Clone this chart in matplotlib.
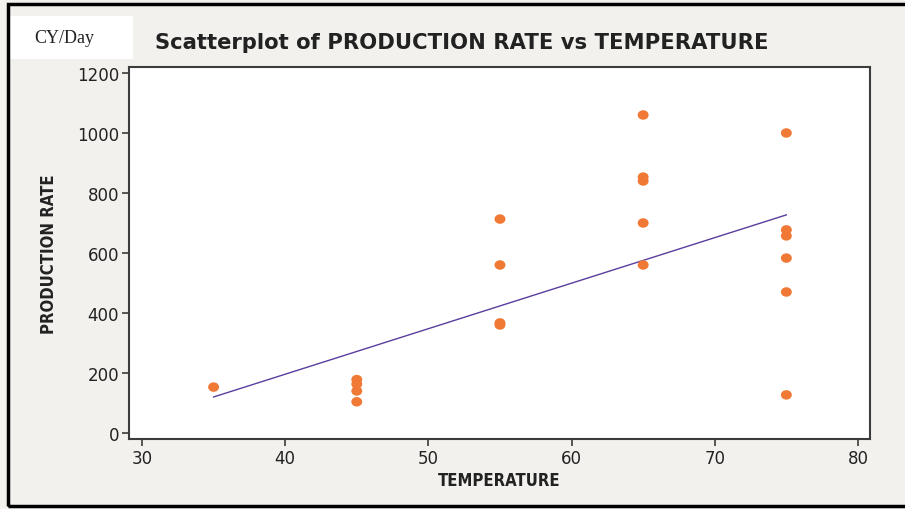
import numpy as np
import matplotlib
matplotlib.use("Agg")
import matplotlib.pyplot as plt
from matplotlib.patches import Rectangle
from matplotlib.path import Path
from matplotlib.transforms import Affine2D

# data
temperature = [35,
               45, 45, 45, 45,
               55, 55, 55, 55,
               65, 65, 65, 65, 65,
               75, 75, 75, 75, 75, 75]
production = [153,
              178, 163, 140, 104,
              713, 560, 367, 360,
              1060, 853, 840, 700, 560,
              1000, 677, 657, 583, 470, 127]

# fitted line as drawn in the chart (ends)
fit_x = [35, 75]
fit_y = [120, 727]

x_ticks = [30, 40, 50, 60, 70, 80]
y_ticks = [0, 200, 400, 600, 800, 1000, 1200]

bg = "#f2f1ed"
dot = "#f07a35"
fitc = "#5a3d9e"
axc = "#3c3c3c"

# slightly wide oval marker
oval = Path.unit_circle().transformed(Affine2D().scale(1.15, 1.0))

fig = plt.figure(figsize=(9.05, 5.10), dpi=100, facecolor=bg)
ax = fig.add_axes([0.1425, 0.1373, 0.8188, 0.7294])
ax.set_facecolor("white")

ax.scatter(temperature, production, s=62, marker=oval, color=dot,
           edgecolors="none", zorder=3)
ax.plot(fit_x, fit_y, color=fitc, lw=1.0, zorder=2)

ax.set_xlim(29.09, 80.84)
ax.set_ylim(-20, 1220)
ax.set_xticks(x_ticks)
ax.set_yticks(y_ticks)
ax.tick_params(direction="out", length=5, width=1.2, color=axc,
               labelsize=12, labelcolor="#222222", pad=2)
for s in ax.spines.values():
    s.set_color(axc)
    s.set_linewidth(1.5)

ax.set_xlabel("TEMPERATURE", fontsize=12, fontweight="bold",
              fontstretch="condensed", color="#222222")
ax.set_ylabel("PRODUCTION RATE", fontsize=12, fontweight="bold",
              fontstretch="condensed", color="#222222")
ax.xaxis.set_label_coords(0.5, -0.085)
ax.yaxis.set_label_coords(-0.096, 0.5)

fig.text(0.51, 0.915, "Scatterplot of PRODUCTION RATE vs TEMPERATURE",
         ha="center", va="center", fontsize=15.2, fontweight="bold",
         color="#222222")

# white box with unit label
fig.patches.append(Rectangle((10 / 905, 1 - 60 / 510), 123 / 905, 43 / 510,
                             transform=fig.transFigure, facecolor="white",
                             edgecolor="none", zorder=1))
fig.text(64 / 905, 1 - 39 / 510, "CY/Day", ha="center", va="center",
         fontsize=13, family="Liberation Serif", color="#222222", zorder=2)

# outer frame
fig.patches.append(Rectangle((8 / 905, 1 - 507 / 510), 910 / 905, 502 / 510,
                             transform=fig.transFigure, facecolor="none",
                             edgecolor="black", lw=2.5, zorder=5))

fig.savefig("out.png", dpi=100, facecolor=bg)
